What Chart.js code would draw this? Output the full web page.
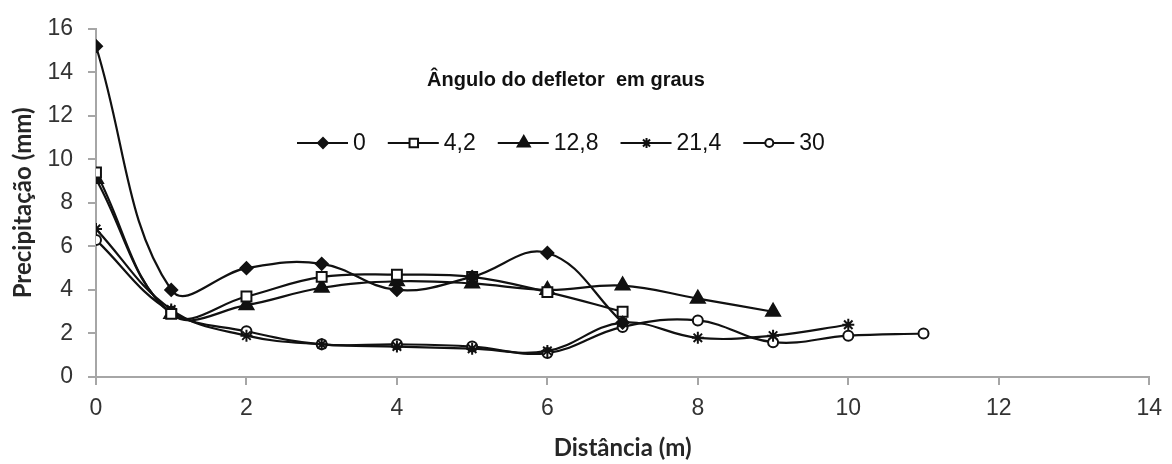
<!DOCTYPE html>
<html>
<head>
<meta charset="utf-8">
<script src="https://cdn.jsdelivr.net/npm/chart.js@4.4.1/dist/chart.umd.min.js"></script>
<style>
  html, body { margin: 0; padding: 0; background: #fff; }
  #wrap { width: 1172px; height: 464px; position: relative; }
</style>
</head>
<body>
<div id="wrap"><canvas id="grafico"></canvas></div>
<script>
// distâncias (m)
const distancias = [0, 1, 2, 3, 4, 5, 6, 7, 8, 9, 10, 11];

// precipitação (mm) por ângulo do defletor
const angulos = ["0", "4,2", "12,8", "21,4", "30"];
const serie0 = [15.2, 4.0, 5.0, 5.2, 4.0, 4.6, 5.7, 2.5];
const serie42 = [9.4, 2.9, 3.7, 4.6, 4.7, 4.6, 3.9, 3.0];
const serie128 = [9.1, 2.9, 3.3, 4.1, 4.4, 4.3, 4.0, 4.2, 3.6, 3.0];
const serie214 = [6.8, 3.1, 1.9, 1.5, 1.4, 1.3, 1.2, 2.5, 1.8, 1.9, 2.4];
const serie30 = [6.3, 3.0, 2.1, 1.5, 1.5, 1.4, 1.1, 2.3, 2.6, 1.6, 1.9, 2.0];

const xTicks = [0, 2, 4, 6, 8, 10, 12, 14];
const yTicks = [0, 2, 4, 6, 8, 10, 12, 14, 16];

const preto = "#111";
const cinza = "#a6a6a6";

// usa a Narrow se existir, senão a Liberation Sans um pouco menor
const teste = document.createElement("canvas").getContext("2d");
teste.font = "40px 'Liberation Sans Narrow', monospace";
const larguraNarrow = teste.measureText("0123456789").width;
teste.font = "40px monospace";
const temNarrow = Math.abs(larguraNarrow - teste.measureText("0123456789").width) > 1;
const fonteNum = temNarrow ? "'Liberation Sans Narrow', sans-serif" : "'Liberation Sans', sans-serif";
const tamNum = temNarrow ? 25 : 23;
const fonteTitulo = "Lato, 'Open Sans', sans-serif";

function pontos(valores) {
    return valores.map((v, i) => ({ x: distancias[i], y: v }));
}

const estilos = [
    { pointStyle: "rectRot", bg: preto, r: 6, rl: 5 },
    { pointStyle: "rect", bg: "#fff", r: 7, rl: 6 },
    { pointStyle: "triangle", bg: preto, r: 8, rl: 7 },
    { pointStyle: "star", bg: preto, r: 6, rl: 5 },
    { pointStyle: "circle", bg: "#fff", r: 5, rl: 4 }
];

const series = [serie0, serie42, serie128, serie214, serie30];

const datasets = series.map((s, i) => ({
    label: angulos[i],
    data: pontos(s),
    borderColor: preto,
    borderWidth: 2.2,
    tension: 0.4,
    pointStyle: estilos[i].pointStyle,
    pointRadius: estilos[i].r,
    pointBackgroundColor: estilos[i].bg,
    pointBorderColor: preto,
    pointBorderWidth: 2
}));

// legenda desenhada dentro da área do gráfico
const legendaPlugin = {
    id: "legendaInterna",
    afterDraw(chart) {
        const ctx = chart.ctx;
        ctx.save();
        ctx.fillStyle = preto;
        ctx.font = "bold 20px 'Liberation Sans', Arial, sans-serif";
        ctx.textAlign = "center";
        ctx.textBaseline = "alphabetic";
        ctx.fillText("Ângulo do defletor  em graus", 566, 86);

        const y = 143;
        let x = 297;
        ctx.font = tamNum + "px " + fonteNum;
        ctx.textAlign = "left";
        ctx.textBaseline = "middle";
        chart.data.datasets.forEach((ds, i) => {
            ctx.strokeStyle = preto;
            ctx.lineWidth = 2;
            ctx.beginPath();
            ctx.moveTo(x, y);
            ctx.lineTo(x + 51, y);
            ctx.stroke();
            ctx.fillStyle = ds.pointBackgroundColor;
            Chart.helpers.drawPoint(ctx, {
                pointStyle: ds.pointStyle,
                radius: estilos[i].rl,
                rotation: 0,
                borderWidth: 2
            }, x + 26, y);
            ctx.fillStyle = preto;
            ctx.fillText(ds.label, x + 56, y + 1);
            x += 56 + ctx.measureText(ds.label).width + 22;
        });
        ctx.restore();
    }
};

new Chart(document.getElementById("grafico"), {
    type: "line",
    data: { datasets },
    options: {
        responsive: true,
        maintainAspectRatio: false,
        animation: false,
        layout: { padding: { top: 22, right: 16, left: 0, bottom: 0 } },
        plugins: {
            legend: { display: false },
            tooltip: { enabled: false }
        },
        scales: {
            x: {
                type: "linear",
                min: 0,
                max: 14,
                afterBuildTicks: (axis) => { axis.ticks = xTicks.map(v => ({ value: v })); },
                afterFit: (axis) => { axis.height = 87; },
                border: { color: cinza, width: 2 },
                grid: { drawOnChartArea: false, color: cinza, tickLength: 8, lineWidth: 2 },
                ticks: { color: "#333", font: { family: fonteNum, size: tamNum }, padding: 10 },
                title: {
                    display: true,
                    text: "Distância (m)",
                    color: "#262626",
                    font: { family: fonteTitulo, size: 24, weight: "bold" },
                    padding: { bottom: 1 }
                }
            },
            y: {
                min: 0,
                max: 16,
                afterBuildTicks: (axis) => { axis.ticks = yTicks.map(v => ({ value: v })); },
                afterFit: (axis) => { axis.width = 96; },
                border: { color: cinza, width: 2 },
                grid: { drawOnChartArea: false, color: cinza, tickLength: 8, lineWidth: 2 },
                ticks: { color: "#333", font: { family: fonteNum, size: tamNum }, padding: 15 },
                title: {
                    display: true,
                    text: "Precipitação (mm)",
                    color: "#262626",
                    font: { family: fonteTitulo, size: 24, weight: "bold" },
                    padding: { top: 9 }
                }
            }
        }
    },
    plugins: [legendaPlugin]
});
</script>
</body>
</html>
